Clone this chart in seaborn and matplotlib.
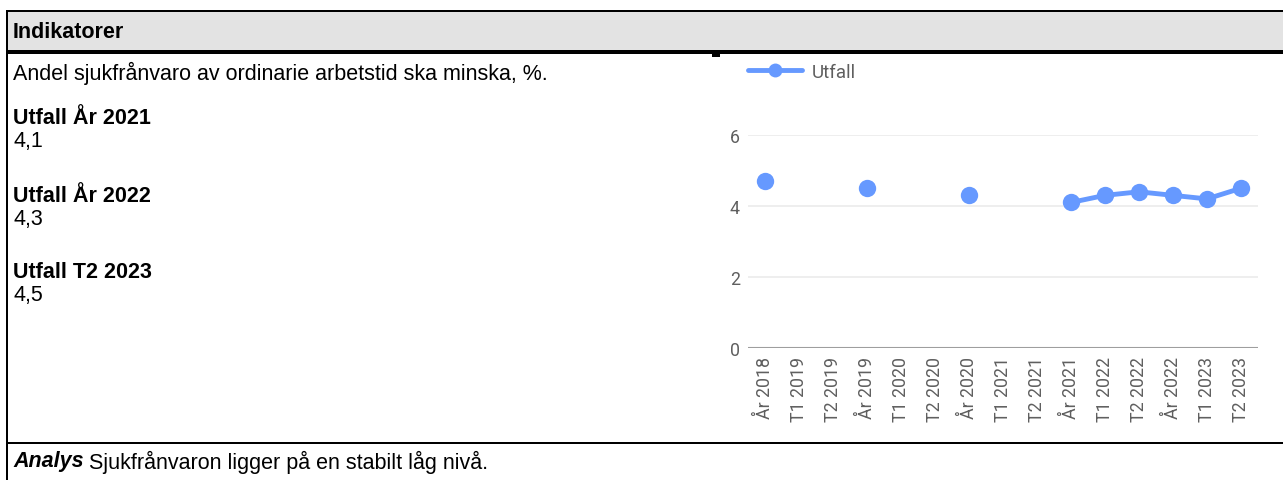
import numpy as np
import pandas as pd
import matplotlib
matplotlib.use("Agg")
import matplotlib.pyplot as plt
from matplotlib.lines import Line2D
from matplotlib.patches import Rectangle
import seaborn as sns

# Periods on the x axis and the measured sick-leave share (%), NaN = no value
periods = ["År 2018", "T1 2019", "T2 2019", "År 2019", "T1 2020", "T2 2020",
           "År 2020", "T1 2021", "T2 2021", "År 2021", "T1 2022", "T2 2022",
           "År 2022", "T1 2023", "T2 2023"]
utfall = [4.7, np.nan, np.nan, 4.5, np.nan, np.nan,
          4.3, np.nan, np.nan, 4.1, 4.3, 4.4,
          4.3, 4.2, 4.5]
y_ticks = [0, 2, 4, 6]

summary_titles = ["Utfall År 2021", "Utfall År 2022", "Utfall T2 2023"]
summary_values = ["4,1", "4,3", "4,5"]

header_text = "Indikatorer"
indicator_text = "Andel sjukfrånvaro av ordinarie arbetstid ska minska, %."
analysis_label = "Analys"
analysis_text = "Sjukfrånvaron ligger på en stabilt låg nivå."

BLUE = "#6699FF"
GREY_TXT = "#5f5f5f"

sns.set_theme(style="white")
plt.rcParams["font.family"] = ["Liberation Sans", "DejaVu Sans"]

W, H = 1283, 481
fig = plt.figure(figsize=(W / 100, H / 100), dpi=100)


def fx(px):
    return px / W


def fy(py):
    return 1 - py / H


def band(x0, y0, x1, y1, color, z=1):
    fig.patches.append(Rectangle((fx(x0), fy(y1)), fx(x1) - fx(x0),
                                 fy(y0) - fy(y1), transform=fig.transFigure,
                                 facecolor=color, edgecolor="none", zorder=z))


# Table frame: header band, borders
band(8, 13, W, 52, "#e3e3e3", z=0)
band(6, 11, W, 13, "black")
band(6, 51, W, 55, "black")
band(712, 55, 720, 58, "black")
band(6, 443, W, 445, "black")
band(6, 11, 8, H, "black")

# Left-hand texts
fs = 15.5
x_txt = 13
fig.text(fx(x_txt), fy(32), header_text, fontsize=fs, fontweight="bold",
         va="center", ha="left", color="black")
fig.text(fx(x_txt), fy(73), indicator_text, fontsize=fs, va="center",
         ha="left", color="black")
title_y = [118, 196, 272]
for t, v, yy in zip(summary_titles, summary_values, title_y):
    fig.text(fx(x_txt), fy(yy), t, fontsize=fs, fontweight="bold",
             va="center", ha="left", color="black")
    fig.text(fx(x_txt), fy(yy + 24), v, fontsize=fs, va="center", ha="left",
             color="black")
t1 = fig.text(fx(x_txt), fy(462), analysis_label, fontsize=fs,
              fontweight="bold", fontstyle="italic", va="center", ha="left",
              color="black")
fig.canvas.draw()
bb = t1.get_window_extent()
fig.text(bb.x1 / W + fx(5), fy(462), analysis_text, fontsize=fs, va="center",
         ha="left", color="black")

# Chart
ax_left, ax_right = 748, 1258
ax_top, ax_bottom = 136, 349
ax = fig.add_axes([fx(ax_left), fy(ax_bottom), fx(ax_right - ax_left),
                   fy(ax_top) - fy(ax_bottom)])

df = pd.DataFrame({"pos": np.arange(len(periods)), "utfall": utfall})
# consecutive non-missing values form one connected segment
df["segment"] = df["utfall"].isna().cumsum()
df = df.dropna()

sns.lineplot(data=df, x="pos", y="utfall", units="segment", estimator=None,
             color=BLUE, linewidth=3.5, marker="o", markersize=12.5,
             markeredgewidth=0, ax=ax, legend=False, clip_on=False, zorder=3)

ax.set_xlim(-0.5, len(periods) - 0.5)
ax.set_ylim(0, 6)
ax.set_yticks(y_ticks)
ax.set_yticklabels([str(v) for v in y_ticks], family="Roboto", fontsize=12.8,
                   color=GREY_TXT)
ax.set_xticks(np.arange(len(periods)))
ax.set_xticklabels(periods, rotation=90, family="Roboto", fontsize=12.8,
                   color=GREY_TXT, va="top", ha="center")
ax.tick_params(axis="both", length=0)
ax.tick_params(axis="y", pad=6)
ax.tick_params(axis="x", pad=6)
ax.set_xlabel("")
ax.set_ylabel("")
for s in ax.spines.values():
    s.set_visible(False)
for v in y_ticks[1:]:
    ax.axhline(v, color="#ebebeb", linewidth=1.2, zorder=1)
ax.axhline(0, color="#9e9e9e", linewidth=1.5, zorder=2)
ax.set_facecolor("none")

# Legend above the plot area
handle = Line2D([], [], color=BLUE, linewidth=3.5, marker="o", markersize=10,
                markeredgewidth=0)
fig.legend([handle], ["Utfall"], loc="center left",
           bbox_to_anchor=(fx(748), fy(73)), frameon=False,
           prop={"family": "Roboto", "size": 13.5}, handlelength=2.9,
           handletextpad=0.5, borderpad=0, borderaxespad=0,
           labelcolor=GREY_TXT)

fig.savefig("out.png", dpi=100)
